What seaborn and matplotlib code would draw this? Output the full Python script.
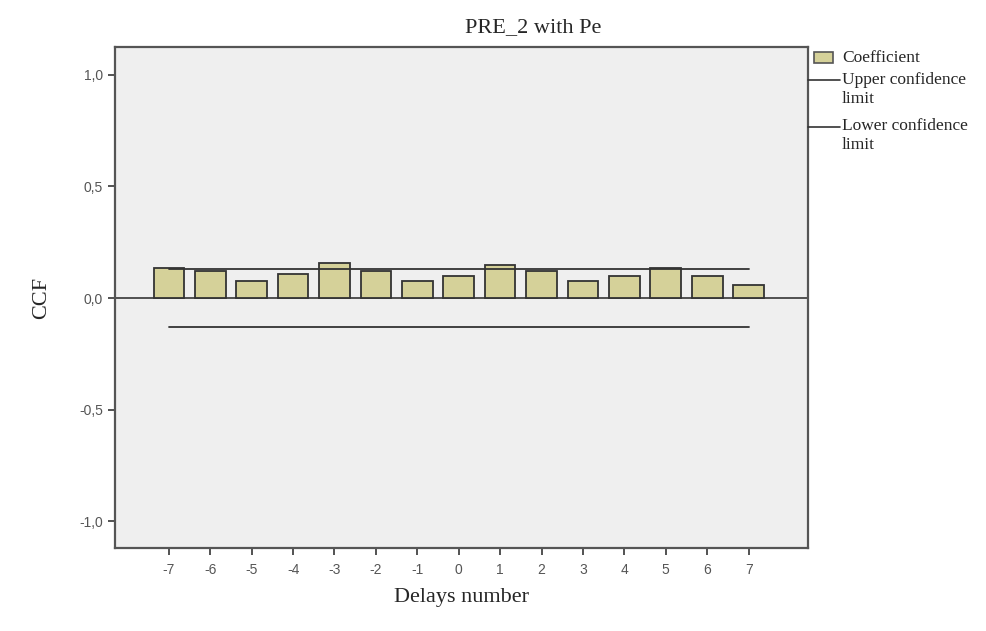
import numpy as np
import pandas as pd
import matplotlib
matplotlib.use("Agg")
import matplotlib.pyplot as plt
import seaborn as sns
from matplotlib.patches import Rectangle
from matplotlib.lines import Line2D

# data
lags = [-7, -6, -5, -4, -3, -2, -1, 0, 1, 2, 3, 4, 5, 6, 7]
coefficient = [0.136, 0.12, 0.075, 0.11, 0.155, 0.12, 0.075, 0.098, 0.147,
               0.12, 0.075, 0.10, 0.133, 0.10, 0.058]
upper_limit = [0.13] * 15
lower_limit = [-0.13] * 15
y_ticks = [-1.0, -0.5, 0.0, 0.5, 1.0]
y_tick_labels = ["-1,0", "-0,5", "0,0", "0,5", "1,0"]

df = pd.DataFrame({"lag": lags, "ccf": coefficient})

sns.set_style("white")
plt.rcParams["font.family"] = ["Liberation Sans", "DejaVu Sans"]

W, H = 987, 631
fig = plt.figure(figsize=(9.87, 6.31), dpi=100)
ax = fig.add_axes([0.1165, 0.1315, 0.702, 0.794])
ax.set_facecolor("#efefef")

sns.barplot(data=df, x="lag", y="ccf", order=lags, color="#d5d199",
            saturation=1, width=0.74, edgecolor="#333333", linewidth=1.3,
            ax=ax, zorder=2)

idx = np.arange(len(lags))
ax.plot(idx, upper_limit, color="#333333", lw=1.3, zorder=3)
ax.plot(idx, lower_limit, color="#333333", lw=1.3, zorder=3)
ax.axhline(0, color="#444444", lw=1.3, zorder=1)

ax.set_xlim(-1.3, len(lags) - 1 + 1.43)
ax.set_ylim(-1.12, 1.125)
ax.set_yticks(y_ticks)
ax.set_yticklabels(y_tick_labels)
ax.set_xticks(idx)
ax.set_xticklabels([str(l) for l in lags])

for s in ax.spines.values():
    s.set_color("#555555")
    s.set_linewidth(1.6)
ax.tick_params(axis="both", direction="out", length=5, width=1.3,
               color="#444444", labelcolor="#555555", labelsize=10,
               bottom=True, left=True)
ax.tick_params(axis="x", pad=6)

serif = ["Liberation Serif", "DejaVu Serif"]
ax.set_xlabel("Delays number", fontsize=16, family=serif, labelpad=8)
ax.set_ylabel("CCF", fontsize=16, family=serif, labelpad=20)
fig.text(533 / W, 1 - 28 / H, "PRE_2 with Pe", ha="center", va="center",
         fontsize=16, family=serif)

# legend drawn by hand to match the SPSS layout
fig.add_artist(Rectangle((814 / W, 1 - 63 / H), 19 / W, 11 / H,
                         transform=fig.transFigure, facecolor="#d5d199",
                         edgecolor="#555555", lw=1.2))
fig.add_artist(Line2D([808 / W, 840 / W], [1 - 80 / H, 1 - 80 / H],
                      transform=fig.transFigure, color="#333333", lw=1.2))
fig.add_artist(Line2D([808 / W, 840 / W], [1 - 127 / H, 1 - 127 / H],
                      transform=fig.transFigure, color="#333333", lw=1.2))
for text, ypix in [("Coefficient", 58), ("Upper confidence", 80), ("limit", 99),
                   ("Lower confidence", 126), ("limit", 145)]:
    fig.text(842 / W, 1 - ypix / H, text, ha="left", va="center",
             fontsize=12.5, family=serif)

fig.savefig("out.png", dpi=100, facecolor="white")
